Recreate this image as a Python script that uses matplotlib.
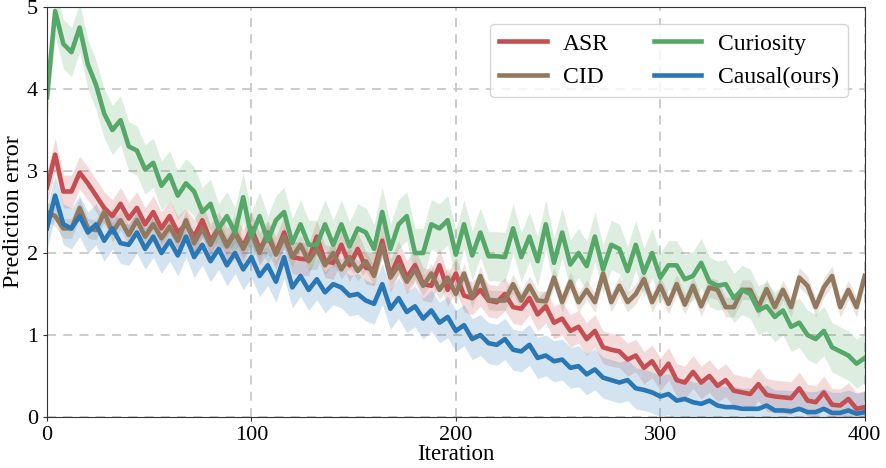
import matplotlib
matplotlib.use("Agg")
import matplotlib.pyplot as plt
import numpy as np

plt.rcParams['font.family'] = ['Liberation Serif', 'DejaVu Serif']

# values read every 4 iterations (0..400)
iters = list(range(0, 401, 4))

curiosity = [3.9, 4.95, 4.55, 4.45, 4.75, 4.3, 4.05, 3.7, 3.5, 3.62,
             3.3, 3.25, 3.02, 3.1, 2.82, 2.95, 2.7, 2.85, 2.75, 2.5,
             2.6, 2.3, 2.45, 2.25, 2.68, 2.2, 2.45, 2.15, 2.4, 2.5,
             2.12, 2.35, 2.1, 2.1, 2.35, 2.1, 2.35, 2.08, 2.3, 2.25,
             2.05, 2.5, 2.05, 2.35, 2.45, 2.0, 2.0, 2.35, 2.3, 2.4,
             1.98, 2.35, 1.97, 2.25, 1.96, 1.96, 1.95, 2.3, 1.95, 2.2,
             1.9, 2.35, 1.88, 2.25, 1.86, 2.0, 1.84, 2.2, 1.8, 2.1,
             2.05, 1.78, 2.1, 1.76, 2.0, 1.7, 1.85, 1.85, 1.68, 1.72,
             1.88, 1.65, 1.6, 1.62, 1.45, 1.55, 1.5, 1.3, 1.35, 1.22,
             1.3, 1.1, 1.15, 1.0, 0.95, 1.05, 0.85, 0.8, 0.75, 0.65,
             0.72]

cid = [2.5, 2.45, 2.3, 2.3, 2.55, 2.3, 2.28, 2.5, 2.25, 2.4,
       2.22, 2.4, 2.2, 2.35, 2.18, 2.32, 2.15, 2.4, 2.12, 2.3,
       2.1, 2.3, 2.08, 2.25, 2.05, 2.25, 2.0, 2.25, 1.98, 2.2,
       1.95, 2.1, 1.9, 2.05, 1.85, 2.0, 1.8, 1.95, 1.78, 1.9,
       1.72, 2.1, 1.7, 1.85, 1.65, 1.8, 1.6, 1.75, 1.55, 1.7,
       1.5, 1.75, 1.45, 1.72, 1.43, 1.42, 1.42, 1.62, 1.42, 1.6,
       1.42, 1.41, 1.7, 1.4, 1.65, 1.4, 1.55, 1.4, 1.75, 1.4,
       1.6, 1.4, 1.5, 1.68, 1.4, 1.6, 1.38, 1.62, 1.37, 1.6,
       1.35, 1.58, 1.55, 1.34, 1.34, 1.55, 1.55, 1.34, 1.56, 1.34,
       1.55, 1.34, 1.7, 1.6, 1.34, 1.58, 1.72, 1.34, 1.55, 1.34,
       1.72]

asr = [2.8, 3.2, 2.75, 2.75, 2.98, 2.85, 2.7, 2.55, 2.45, 2.6,
       2.42, 2.55, 2.35, 2.5, 2.3, 2.45, 2.25, 2.35, 2.2, 2.4,
       2.15, 2.3, 2.1, 2.25, 2.08, 2.3, 2.05, 2.2, 2.0, 2.25,
       1.95, 1.93, 1.92, 2.2, 1.9, 1.88, 2.1, 1.85, 2.05, 1.82,
       1.8, 2.15, 1.72, 1.95, 1.7, 1.85, 1.62, 1.6, 1.85, 1.55,
       1.75, 1.48, 1.45, 1.55, 1.42, 1.4, 1.5, 1.34, 1.32, 1.45,
       1.25, 1.35, 1.15, 1.2, 1.05, 1.1, 0.95, 1.05, 0.85, 0.82,
       0.8, 0.7, 0.75, 0.6, 0.68, 0.52, 0.65, 0.45, 0.42, 0.55,
       0.42, 0.5, 0.38, 0.45, 0.32, 0.3, 0.28, 0.4, 0.27, 0.25,
       0.24, 0.23, 0.35, 0.2, 0.18, 0.3, 0.15, 0.14, 0.22, 0.1,
       0.12]

causal = [2.3, 2.7, 2.35, 2.3, 2.45, 2.25, 2.35, 2.15, 2.3, 2.12,
          2.1, 2.25, 2.05, 2.2, 2.0, 2.15, 1.97, 2.2, 1.95, 2.1,
          1.9, 2.05, 1.85, 2.0, 1.8, 1.95, 1.72, 1.85, 1.65, 1.95,
          1.58, 1.72, 1.55, 1.68, 1.52, 1.62, 1.58, 1.48, 1.5, 1.42,
          1.38, 1.62, 1.32, 1.45, 1.28, 1.35, 1.2, 1.3, 1.15, 1.22,
          1.05, 1.12, 0.95, 1.0, 0.9, 0.88, 0.95, 0.82, 0.8, 0.88,
          0.72, 0.75, 0.68, 0.7, 0.6, 0.62, 0.52, 0.58, 0.48, 0.45,
          0.42, 0.45, 0.35, 0.33, 0.3, 0.25, 0.28, 0.2, 0.22, 0.18,
          0.16, 0.2, 0.14, 0.12, 0.12, 0.1, 0.1, 0.1, 0.14, 0.08,
          0.08, 0.07, 0.1, 0.06, 0.06, 0.1, 0.05, 0.05, 0.08, 0.04,
          0.06]

# half width of the shaded band for each method
band = {'ASR': 0.2, 'CID': 0.12, 'Curiosity': 0.3, 'Causal(ours)': 0.25}

series = [('ASR', asr, '#c44e52'),
          ('CID', cid, '#937860'),
          ('Curiosity', curiosity, '#55a868'),
          ('Causal(ours)', causal, '#2a77b5')]

fig = plt.figure(figsize=(8.86, 4.68), dpi=100)
ax = fig.add_axes([0.053, 0.109, 0.923, 0.876])

for name, vals, col in series:
    v = np.array(vals)
    ax.fill_between(iters, v - band[name], v + band[name], color=col, alpha=0.2, lw=0)
    ax.plot(iters, v, color=col, lw=3.3, label=name)

ax.set_xlim(0, 400)
ax.set_ylim(0, 5)
ax.set_xticks([0, 100, 200, 300, 400])
ax.set_yticks([0, 1, 2, 3, 4, 5])
ax.grid(True, ls='--', color='#c8c8c8', lw=1.3, dashes=(5, 4))
ax.set_axisbelow(True)
for s in ax.spines.values():
    s.set_color('#333333')
ax.tick_params(labelsize=16, length=3, color='#333333')
ax.set_xlabel('Iteration', fontsize=16.5, labelpad=-1)
ax.set_ylabel('Prediction error', fontsize=17.5, labelpad=2)

leg = ax.legend(ncol=2, loc='upper right', fontsize=17, fancybox=True,
                handlelength=2.0, handletextpad=0.7, columnspacing=1.9,
                framealpha=0.8, borderaxespad=0.7)

plt.savefig('out.png', dpi=100)
